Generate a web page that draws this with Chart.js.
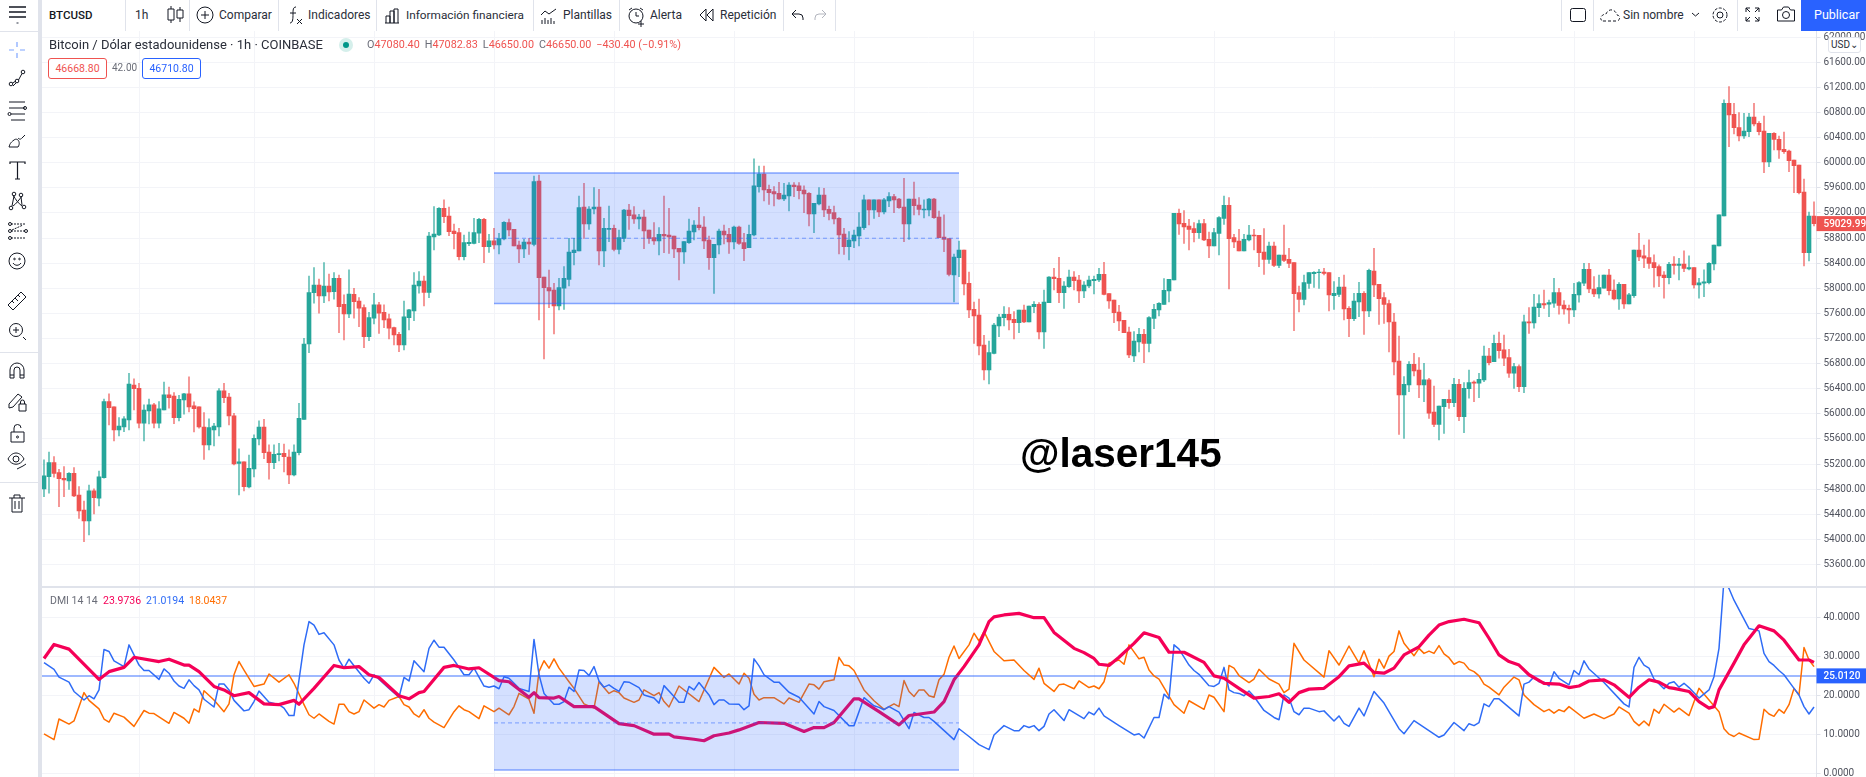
<!DOCTYPE html>
<html lang="es"><head><meta charset="utf-8">
<script src="https://cdn.jsdelivr.net/npm/chart.js@4"></script>
<style>
html,body{margin:0;padding:0;background:#fff;width:1866px;height:777px;overflow:hidden;font-family:Roboto,sans-serif;color:#2a2e39}
.t{position:absolute;white-space:nowrap;line-height:16px;font-size:12px}
.sep{position:absolute;background:#e0e3eb}
svg{position:absolute;overflow:visible;fill:none;stroke:#131722;stroke-width:1}
canvas{position:absolute}
.r{color:#ef5350}.g{color:#6a6d78}
.m{margin-left:5px}
</style></head><body>
<div id="chrome"></div>
<canvas id="priceCanvas" style="left:41px;top:31px;width:1825px;height:555px"></canvas>
<canvas id="dmiCanvas" style="left:41px;top:587px;width:1825px;height:190px"></canvas>
<div id="over"></div>
<script>
const opens=[54804,55000,55223,55064,54974,54931,55053,54708,54469,54294,
54772,54655,54984,56195,56110,55743,55791,55903,56460,56407,
55850,56046,56142,55850,56062,56301,56285,55940,56221,56317,
56126,56110,55791,55505,55743,55791,56365,56269,55967,55212,
55234,54835,55122,55600,55791,55393,55223,55351,55372,55313,
55027,55382,55913,57113,57931,58053,57878,58037,57947,58159,
57745,57591,57905,57798,57692,57230,57522,57735,57618,57512,
57374,57267,57097,57533,57639,58037,58116,57936,58817,58849,
59274,59152,58913,58886,58504,58711,58716,58876,59099,58663,
58754,58690,58785,59045,58939,58690,58626,58737,58700,59709,
58180,58010,57973,57718,58000,58143,58568,58594,59295,59024,
59263,59295,58594,58939,58955,58621,58796,59247,59168,59104,
59136,58929,58806,58753,58860,58849,58833,58637,58578,58727,
58897,59008,58976,58769,58488,58690,58913,58860,58737,58976,
58727,58647,58849,59619,59821,59576,59539,59513,59422,59470,
59645,59630,59566,59513,59184,59343,59486,59258,59205,59114,
58865,58663,58753,58833,58966,59407,59247,59407,59215,59391,
59460,59422,59295,59024,59422,59327,59247,59247,59422,59136,
58817,58791,58212,58488,58610,58079,57665,57575,57097,56698,
56964,57399,57532,57585,57505,57452,57654,57463,57707,57744,
57304,57771,58180,58159,57930,58026,58180,58132,57957,58036,
58121,58132,58222,57914,57813,57622,57490,57304,56921,57144,
57267,57123,57521,57654,57744,57957,58132,59194,59035,58992,
58950,58886,59029,58780,58674,58875,59114,59321,58806,58753,
58594,58769,58849,58844,58578,58461,58674,58366,58530,58461,
58408,57930,57824,58079,58233,58249,58259,58249,57882,57904,
58020,57681,57516,57782,57920,57638,58275,58063,57851,57755,
57463,56842,56300,56460,56789,56699,56460,56540,56030,55833,
56115,56232,56178,56471,55955,56402,56508,56487,56540,56922,
56832,57124,57018,56895,56646,56752,56433,57464,57448,57692,
57756,57745,57761,57931,57734,57681,57655,57894,58080,58303,
57989,57910,58000,58212,57973,57830,58064,57750,57883,58610,
58515,58488,58409,58345,58212,58170,58387,58366,58387,58308,
58329,58053,58080,58090,58387,58674,59151,60946,60771,60558,
60426,60495,60728,60627,60505,60011,60468,60372,60213,60187,
60043,59964,59533,58567,59151];
const highs=[55266,55393,55319,55117,55159,55064,55143,54841,54612,54867,
54804,55090,56237,56317,56110,55940,55956,56646,56556,56487,
56142,56237,56168,56195,56508,56428,56338,56296,56328,56588,
56190,56110,56020,55919,55850,56402,56487,56328,56009,55441,
55234,55345,55664,55887,55913,55505,55505,55531,55520,55425,
55505,56168,57204,58196,58329,58148,58408,58228,58249,58212,
57894,58292,58000,57852,57735,57618,57921,57777,57735,57591,
57384,57299,57798,57666,58249,58265,58196,58892,59300,59285,
59407,59295,59024,58955,58849,58897,59115,59115,59115,58860,
58955,58875,59061,59104,58939,58753,58780,58796,59789,59805,
58180,58291,58079,58159,58345,58796,58796,59470,59672,59300,
59603,59576,59114,59311,59008,58929,59258,59337,59300,59178,
59247,58929,59045,58966,59470,59274,58833,58637,58743,59104,
59077,59290,59141,58833,58700,58944,59008,58955,58992,58992,
58875,59008,60060,59948,59948,59645,59619,59688,59672,59683,
59683,59683,59630,59523,59353,59603,59592,59311,59311,59125,
58955,58902,58929,59205,59486,59407,59407,59407,59433,59523,
59497,59433,59752,59422,59693,59444,59407,59433,59433,59231,
59168,58791,58546,58753,58610,58260,57782,57829,57251,57160,
57442,57585,57707,57691,57627,57654,57734,57718,57787,57771,
57973,58185,58318,58493,58105,58291,58265,58206,58105,58196,
58196,58318,58413,57914,57813,57728,57490,57383,57309,57362,
57346,57548,57744,57771,58153,58143,59194,59263,59236,59098,
59045,59088,59098,58897,58955,59141,59470,59444,58859,58939,
58859,59003,58939,58844,58950,58737,58737,58530,59008,58636,
58408,58036,58212,58249,58265,58302,58318,58249,58105,58174,
58212,57707,57920,58095,57946,58307,58636,58063,57930,57813,
57601,57240,56592,56832,56964,56895,56805,56566,56444,56125,
56232,56380,56566,56550,56497,56699,56524,56646,57081,57044,
57256,57304,57256,57028,56805,56779,57575,57692,57904,57894,
57973,57814,58159,58000,57803,57734,58080,58106,58398,58398,
58186,58212,58212,58303,58133,58090,58064,57920,58610,58876,
58690,58770,58531,58372,58265,58414,58504,58478,58595,58515,
58329,58159,58292,58409,58690,59168,61000,61211,60946,60797,
60787,60787,60946,60654,60744,60468,60479,60426,60489,60203,
60043,59964,59741,59215,59379];
const lows=[54681,54735,54990,54522,54681,54798,54681,54336,53965,54071,
54405,54533,54974,55823,55568,55648,55717,55743,56062,55775,
55568,55839,55775,55775,56062,56089,55844,55887,55993,56030,
55712,55770,55276,55425,55489,55648,56179,55823,55186,54708,
54772,54820,54995,55505,55287,54958,55128,55250,55074,54889,
55011,55345,55913,56975,57761,57602,57772,57798,57825,57294,
57177,57533,57522,57390,57055,57167,57432,57283,57374,57193,
57097,56991,57018,57336,57485,57921,57719,57851,58610,58839,
59046,58839,58626,58451,58451,58679,58706,58727,58408,58573,
58626,58546,58769,58833,58674,58408,58488,58541,58674,57495,
56874,57691,57272,57654,57665,58037,58371,58594,58796,58939,
59184,58371,58345,58743,58594,58546,58743,58939,59035,58944,
58631,58716,58700,58530,58568,58557,58488,58132,58398,58716,
58769,58929,58631,58302,57920,58546,58706,58557,58626,58700,
58440,58647,58833,59529,59391,59337,59311,59417,59396,59231,
59460,59422,59205,58992,58886,59327,59141,59088,59024,58546,
58541,58451,58647,58674,58939,59008,59114,59141,59184,59300,
59205,59274,58743,58780,59168,59168,59120,59152,59114,58806,
58583,58196,57782,58185,57893,57532,57123,56937,56539,56475,
56953,57229,57399,57336,57192,57293,57452,57463,57612,57192,
57043,57771,57973,57771,57681,58015,57973,57771,57851,58010,
57909,58105,57893,57681,57452,57325,57293,56895,56831,56985,
56815,56985,57357,57559,57744,57782,58132,58859,58716,58610,
58737,58796,58759,58488,58674,58530,59019,57989,58647,58594,
58594,58753,58610,58344,58222,58397,58344,58328,58424,58328,
57325,57622,57734,57999,58015,57999,58212,57638,57665,57867,
57495,57229,57484,57548,57266,57548,57867,57426,57442,56985,
56619,55673,55610,56354,56603,56258,56194,55929,55796,55584,
55690,56088,56115,55892,55701,56248,56194,56258,56513,56779,
56832,56885,56768,56582,56407,56354,56338,57283,57363,57549,
57681,57549,57697,57586,57586,57442,57549,57777,58042,57931,
57867,57841,58000,57894,57814,57665,57681,57750,57856,58441,
58329,58318,58016,58026,57841,58069,58223,58133,58265,58292,
58000,57841,57867,58069,58292,58674,59151,60256,60457,60346,
60388,60415,60585,60441,59841,59937,60203,60070,60149,59857,
59523,59502,58355,58434,58992];
const closes=[55011,55223,55053,54968,54947,55053,54692,54453,54294,54772,
54666,54995,56195,56099,55743,55807,55919,56476,56402,55850,
56062,56142,55850,56078,56301,56259,55940,56232,56317,56110,
56083,55791,55505,55781,55807,56365,56259,55967,55202,55234,
54841,55133,55611,55791,55382,55223,55356,55366,55319,55027,
55393,55929,57113,57931,58053,57878,58037,57942,58159,57708,
57591,57909,57788,57682,57230,57533,57735,57602,57496,57363,
57257,57097,57544,57655,58053,58116,57936,58833,58865,59274,
59141,58902,58870,58504,58727,58732,58886,59099,58663,58754,
58690,58791,59051,58929,58674,58626,58737,58706,59699,58169,
58010,57957,57718,58010,58159,58578,58610,59284,59024,59263,
59295,58594,58955,58955,58621,58806,59247,59157,59104,59136,
58913,58796,58753,58860,58833,58817,58626,58578,58743,58913,
59008,58966,58753,58488,58700,58913,58849,58737,58976,58716,
58631,58860,59630,59821,59566,59523,59502,59422,59486,59645,
59619,59555,59502,59184,59353,59486,59247,59194,59104,58849,
58663,58769,58849,58976,59407,59247,59407,59215,59407,59460,
59407,59284,59024,59422,59316,59258,59263,59422,59125,58806,
58780,58222,58498,58610,58068,57654,57559,57081,56698,56974,
57415,57543,57585,57495,57452,57654,57463,57718,57744,57304,
57782,58180,58153,57930,58036,58180,58121,57957,58052,58132,
58143,58222,57904,57797,57612,57479,57293,56937,57160,57267,
57123,57532,57665,57760,57967,58143,59194,59024,58976,58939,
58886,59029,58769,58674,58886,59125,59321,58790,58737,58594,
58780,58849,58833,58567,58461,58674,58366,58530,58445,58397,
57914,57824,58090,58249,58254,58259,58238,57893,57920,58020,
57670,57516,57797,57920,57638,58286,58052,57835,57744,57463,
56826,56300,56470,56789,56683,56460,56540,56009,55833,56125,
56232,56178,56471,55955,56407,56497,56487,56550,56922,56816,
57124,57007,56885,56646,56752,56433,57464,57448,57702,57756,
57734,57772,57931,57729,57671,57655,57904,58090,58303,57989,
57910,58010,58212,57963,57830,58064,57750,57894,58610,58499,
58478,58398,58329,58196,58170,58382,58366,58387,58318,58329,
58053,58085,58101,58398,58690,59168,60946,60760,60558,60426,
60505,60728,60617,60495,60011,60468,60372,60203,60176,60033,
59953,59523,58567,59151,59029.99];
const barLabels=opens.map((_,i)=>i);
const dayBars=[19,42,66,90,114,138,162,186,210,234,258,282,306,330];
const priceTicks=[53600,54000,54400,54800,55200,55600,56000,56400,56800,57200,57600,58000,58400,58800,59200,59600,60000,60400,60800,61200,61600,62000];
const dmiTicks=[0,10,20,30,40];
const rangeBars=[90,183];
const priceBox=[57758,58797,59836];
const dmiBox=[0.8,12.9,25.0];
const dmiLevel=25.012;

const adxBars=[0,2,5,11,13,16,18,23,25,28,29,31,34,36,38,41,44,47,50,51,54,58,60,63,65,67,71,73,75,76,80,82,85,87,91,93,97,98,99,102,103,106,110,115,118,122,125,126,130,132,134,137,139,143,148,152,154,156,158,162,163,167,171,173,178,180,182,184,187,189,190,192,195,198,200,202,206,208,210,211,213,215,218,220,223,225,228,232,234,236,239,242,245,247,249,251,253,256,259,261,264,266,268,270,272,275,277,279,281,284,287,289,291,293,295,297,300,303,305,307,309,312,314,317,319,321,323,325,326,329,331,333,334,335,338,340,343,346,348,351,353,354];
const adxVals=[29.5,33.1,31.9,24.1,26.1,27.2,29.8,28.7,29.3,27.8,27.8,26.1,22.3,21.4,19.9,20.7,17.8,17.6,18.7,17.7,21.8,27.7,27.1,27.4,25.3,24.6,19.9,19.1,20.7,21,27.2,27.7,26.8,27.1,23.8,23.5,19.5,20.7,19.4,19.3,19.7,17.1,17.1,12.7,12.2,10,10,9.3,8.7,8.3,9.6,10.3,11.1,13,12.8,10.7,11.7,11.7,13,19.1,19.1,15.8,12.4,14.8,15.7,18.4,24,27.4,33,39,40.2,40.7,41.1,40,40,36.2,32.1,31,29.5,28,27.7,29.8,33.4,36.1,34.9,31.1,31.1,28.5,25,24.4,21.8,19.3,19.7,20.4,18.2,20.7,21.6,21.8,24.8,27.6,28.3,25.9,25.7,27,30.4,32.5,35.5,38.1,39,39.6,38.7,34.7,30.4,28.7,27.8,25.3,23.1,22.9,22,22.4,23.7,24,22.7,19.5,22.1,24,23.4,22,21.8,21,18.4,16.7,17.1,21.4,28.3,33,37.9,36.6,34.2,29.1,29.1,28.5];

const plusBars=[0,2,3,5,6,8,9,10,11,12,13,14,16,17,18,19,20,21,23,24,25,26,27,28,29,30,31,32,34,35,36,37,38,40,41,42,43,45,47,48,49,50,51,52,53,54,55,56,58,59,60,61,62,64,65,66,69,71,72,73,74,76,77,78,79,80,82,84,85,86,88,89,90,91,92,93,95,97,98,99,100,102,103,104,105,106,107,108,109,110,111,112,113,114,
115,116,117,119,120,122,123,124,126,127,128,129,130,131,133,134,135,136,137,139,140,141,142,143,144,146,147,149,151,154,155,156,158,161,162,164,166,167,168,169,171,173,174,176,177,178,182,183,185,187,189,190,192,194,195,196,197,198,199,200,201,202,204,205,208,209,210,211,212,215,218,219,220,222,223,224,225,226,227,229,230,231,233,234,235,236,237,238,
239,240,241,242,244,246,247,248,249,250,251,252,253,255,256,258,259,260,261,263,264,266,268,271,272,274,279,280,282,284,285,286,287,288,289,290,291,295,296,297,298,299,300,301,302,303,305,306,307,308,309,312,316,317,318,319,320,321,322,324,325,326,327,328,329,331,333,334,335,336,337,338,341,343,344,345,346,347,348,350,351,352,353,354];
const plusVals=[28.4,26.7,24.7,23.4,21,18.8,19.9,19.1,21.4,31.8,31.3,28.9,27.4,33,30.4,27.8,26.4,26.4,24.1,26.8,25.7,23.7,22.4,21.8,24,22.5,21.4,19,17,22.9,22.9,21.4,18.7,16,16.3,18.4,21.1,18.2,17.6,16.7,14.8,14.8,24,33,39,38.1,35.7,36.1,33,29.1,27,29.3,27.6,24.4,23.1,25.3,21.8,19.5,24.6,23.7,28.9,26.1,32.1,34.2,32.4,32.4,29.1,25.3,25.3,27,22.4,22.1,22.4,21.7,24.8,24.4,21.8,21,34.4,25.3,20.5,17.7,17.7,18.4,22.1,21,26.5,26.4,25.1,27.4,23.7,22.1,22.7,21.8,
21,23.5,23.4,22,20.1,19.3,18,22.5,19.7,18.2,18.2,22.3,21.4,23.3,20.1,17.6,18.8,18.8,17.8,17.7,16.3,17.3,29.4,27.6,25.3,23.4,23.4,20.8,19.5,15.2,18.4,17.1,16.1,12.2,12.2,19.4,17.3,16.9,16.3,17.1,15.7,11.4,15.6,14.3,14.3,13.3,8.6,11.4,9.4,7.3,6,9.8,12.2,10.9,10.9,12.2,11.7,12.2,10.9,12,15.2,16.3,13.5,16.3,14,15.7,15,16.7,14.7,12.2,9.8,10.1,9,14.3,14.3,20.3,19.1,33,31.9,27.8,26.4,25.4,22.5,22.3,23.1,27.2,21.4,20.7,
20.5,19.9,21.1,19.7,16.1,14.3,13.7,20.1,19.3,15.8,15,16.7,16.7,15.8,16,13.4,14.7,12.8,12,16.7,14.7,21,18,11.4,10.1,13.5,9.2,9.8,13,10.9,12.7,12.2,13,17.8,17.1,19.1,19.1,14.7,22.9,23.4,24.7,23.5,23.4,22.4,26.1,24.4,22.7,26.4,25.3,28.9,26.8,23.3,17.8,17,27.2,29.8,27.8,27,24.2,21.7,23.1,23.5,22.1,23.1,22,19.3,21.4,24.8,32.1,49.8,47.5,44.5,37.2,36.6,30.8,28.7,27.7,26.4,25.3,21.8,20.1,17.1,15.2,17];

const minusBars=[0,2,3,5,6,8,9,11,12,13,14,16,18,20,21,22,25,26,28,29,30,31,32,34,36,37,38,39,40,42,44,45,47,49,50,52,53,54,55,57,58,59,60,61,62,63,64,66,67,68,69,71,72,73,74,75,76,77,78,80,82,83,84,85,87,88,90,91,93,94,95,97,98,99,100,101,102,103,105,106,108,110,111,113,114,
115,116,118,119,120,122,123,124,125,127,131,134,136,137,139,140,141,142,143,144,146,148,149,151,153,154,155,156,158,159,160,161,162,164,166,168,170,171,172,173,174,175,176,177,178,179,180,181,182,183,185,186,187,188,190,192,194,196,198,199,200,202,203,204,206,207,209,210,211,212,213,215,216,217,219,220,221,222,223,226,228,229,232,233,234,236,237,238,
239,241,242,243,245,247,248,249,250,252,256,257,259,261,263,264,266,267,268,269,270,271,272,274,275,276,277,278,279,280,281,282,283,284,285,286,287,288,289,291,292,294,295,296,298,300,301,302,303,304,305,308,310,312,314,315,317,318,319,320,321,322,323,324,326,327,329,331,335,336,337,338,339,342,343,344,345,346,347,348,349,350,351,352,353,354];
const minusVals=[10.1,8.6,13.9,12.6,13.4,20.7,18.7,16.5,13.9,13.1,15.4,14.4,12,16.1,15.4,15.3,12.8,15.6,14.1,12.8,16.5,15.7,21.2,18.8,15.8,17.8,25.3,28.7,26.5,22.3,22.9,25.5,23.4,25.3,23.1,17.6,15,14.1,15.2,13.3,12.6,17.7,17.7,15.8,15.2,15.8,18.8,16.7,17.6,17,18.7,19.7,17.6,17,15.2,14.4,16.3,14.1,13.1,11.7,15.8,17.3,16.3,15.8,14,17.3,15.8,16.7,15,17.1,20.5,19,15.4,26.1,28.9,27,29.4,27,23.5,21.8,17.8,16.7,23.5,20.5,21.2,
20.7,19.3,18.2,18.8,21.4,19.9,20.7,18.4,17,22.4,18.4,27.2,24.6,25.5,22.9,25.7,24.4,20.3,18.8,19.4,19.4,17.8,19.3,18.2,22.9,22.7,21.6,23.5,24,29.8,27.8,27.6,26.4,21.4,18.6,16.4,17.8,17.1,23.8,21,19.7,21.4,21.4,19.9,19.5,24,25.4,29.8,32.7,29.5,33,36,34,36.4,31.3,28.9,29.1,26.4,24.1,27,23.1,21,22.7,22.9,21.7,23.7,22,22.4,21.7,23.5,28.3,29.1,28,33,29.4,29.8,26.5,25,24.2,17.6,15.4,18.6,16.4,20.1,19.5,15.8,27.7,27,
25.1,23.3,24.2,26.7,24.2,22.9,20.7,21.6,33.4,29.1,24.7,31.5,27.8,32.7,28.3,31.5,24.8,29.3,27,30.1,31.3,36.6,33.4,30.2,32.1,30.8,31.4,30.8,32.8,30.7,29.7,28,28.7,28.3,26.7,26.1,25,22.9,22.1,20.1,22.1,24.7,24,20.1,17.6,15.8,16.4,15.4,16.3,15.8,17.1,14.1,15.2,14,15.2,17,15.4,13.3,12.2,13.4,12.2,16.4,15.4,17.7,15.7,16.7,14.8,21.8,15.8,11.4,10,9.4,10.3,8.6,8.7,16.4,15.2,14.6,16.4,15.4,17.6,21.8,20.1,32.3,29.1,27.4];

const up='#26a69a',down='#ef5350',upWick='rgba(38,166,154,0.72)',downWick='rgba(239,83,80,0.72)',axisFont='Roboto,sans-serif',tickGrey='#50535e',gridC='#f3f4f8',lineC='#e0e3eb';
const boxFill='rgba(41,98,255,0.2)',boxLine='rgba(41,98,255,0.55)';

function fixY(w){return s=>{s.paddingTop=0;s.paddingBottom=0;s.width=w;};}
function drawBox(chart,vals){
  const {ctx,scales:{x,y}}=chart;
  const x0=x.getPixelForValue(rangeBars[0]),x1=x.getPixelForValue(rangeBars[1]);
  const yb=y.getPixelForValue(vals[0]),ym=y.getPixelForValue(vals[1]),yt=y.getPixelForValue(vals[2]);
  ctx.save();
  ctx.fillStyle=boxFill;ctx.fillRect(x0,yt,x1-x0,yb-yt);
  ctx.strokeStyle=boxLine;ctx.lineWidth=1.5;
  ctx.beginPath();ctx.moveTo(x0,yt);ctx.lineTo(x1,yt);ctx.moveTo(x0,yb);ctx.lineTo(x1,yb);ctx.stroke();
  ctx.lineWidth=1;ctx.setLineDash([4,3]);
  ctx.beginPath();ctx.moveTo(x0,ym);ctx.lineTo(x1,ym);ctx.stroke();
  ctx.restore();
}
function drawTag(chart,val,txt,bg,h){
  const {ctx,scales:{y}}=chart,py=y.getPixelForValue(val);
  ctx.save();ctx.fillStyle=bg;ctx.fillRect(y.left,py-h/2,y.right-y.left,h);
  ctx.fillStyle='#fff';ctx.font='500 10px '+axisFont;ctx.textBaseline='middle';ctx.textAlign='left';
  ctx.fillText(txt,y.left+7,py+.5);ctx.restore();
}
Chart.defaults.animation=false;
Chart.defaults.responsive=false;
Chart.defaults.devicePixelRatio=1;
function xGrid(s){s.ticks=dayBars.map(v=>({value:v}));}
function sizeC(id,w,h){const c=document.getElementById(id);c.width=w;c.height=h;return c;}

new Chart(sizeC('priceCanvas',1825,555),{type:'bar',
 data:{labels:barLabels,datasets:[
  {data:opens.map((o,i)=>[Math.min(o,closes[i]),Math.max(o,closes[i])]),backgroundColor:opens.map((o,i)=>closes[i]>=o?up:down),barThickness:4,grouped:false,order:0,borderWidth:0},
  {data:lows.map((l,i)=>[l,highs[i]]),backgroundColor:opens.map((o,i)=>closes[i]>=o?upWick:downWick),barThickness:1,grouped:false,order:1,borderWidth:0}
 ]},
 options:{maintainAspectRatio:false,layout:{padding:{left:0.5,top:0,right:0,bottom:0}},
  plugins:{legend:{display:false},tooltip:{enabled:false}},
  scales:{
   x:{type:'category',offset:true,afterBuildTicks:xGrid,ticks:{display:false},border:{display:false},grid:{color:gridC,drawTicks:false,offset:false}},
   y:{position:'right',min:53258,max:62098,afterBuildTicks:s=>{s.ticks=priceTicks.map(v=>({value:v}));},afterFit:fixY(49.5),
      ticks:{color:tickGrey,font:{family:axisFont,size:10},padding:3,callback:v=>v.toFixed(2)},
      grid:{color:gridC,tickColor:lineC,tickLength:4},border:{color:lineC}}
  }},
 plugins:[{id:'box',afterDatasetsDraw:c=>drawBox(c,priceBox),afterDraw:c=>drawTag(c,closes[closes.length-1],closes[closes.length-1].toFixed(2),down,15)}]
});

const pairs=(b,v)=>b.map((x,i)=>({x,y:v[i]}));
new Chart(sizeC('dmiCanvas',1825,190),{type:'line',
 data:{datasets:[
  {data:pairs(adxBars,adxVals),borderColor:'#f50057',borderWidth:3.2,order:0},
  {data:pairs(plusBars,plusVals),borderColor:'#2f6cf6',borderWidth:1.5,order:1},
  {data:pairs(minusBars,minusVals),borderColor:'#ff6d00',borderWidth:1.5,order:2},
  {data:[{x:-0.5,y:dmiLevel},{x:354.5,y:dmiLevel}],borderColor:'rgba(41,98,255,0.6)',borderWidth:1.5,order:3}
 ]},
 options:{maintainAspectRatio:false,layout:{padding:{left:0.5,top:0,right:0,bottom:0}},
  elements:{point:{radius:0},line:{tension:0,borderJoinStyle:'round'}},
  plugins:{legend:{display:false},tooltip:{enabled:false}},
  scales:{
   x:{type:'linear',min:-0.5,max:354.5,afterBuildTicks:xGrid,ticks:{display:false},border:{display:false},grid:{color:gridC,drawTicks:false}},
   y:{position:'right',min:-1.03,max:47.9,afterBuildTicks:s=>{s.ticks=dmiTicks.map(v=>({value:v}));},afterFit:fixY(49.5),
      ticks:{color:tickGrey,font:{family:axisFont,size:10},padding:3,autoSkip:false,callback:v=>v.toFixed(4)},
      grid:{color:gridC,tickColor:lineC,tickLength:4},border:{color:lineC}}
  }},
 plugins:[{id:'box',afterDatasetsDraw:c=>drawBox(c,dmiBox),afterDraw:c=>drawTag(c,dmiLevel,dmiLevel.toFixed(4),'#2962ff',15)}]
});

/* ---- interface chrome ---- */
const T=(x,y,s,cls,st)=>`<div class="t ${cls||''}" style="left:${x}px;top:${y-8}px;${st||''}">${s}</div>`;
const V=(x,h,y)=>`<div class="sep" style="left:${x}px;top:${y||0}px;width:1px;height:${h}px"></div>`;
const H=(x,y,w)=>`<div class="sep" style="left:${x}px;top:${y}px;width:${w}px;height:1px"></div>`;
const I=(x,y,b)=>`<svg style="left:${x}px;top:${y}px" width="1" height="1">${b}</svg>`;
const ui=[];
ui.push(V(38,777).replace('width:1px','width:4px'));
ui.push(H(0,31,38),H(0,352,38),H(0,482,38));
ui.push(`<div class="sep" style="left:38px;top:586px;width:1828px;height:1.5px"></div>`);
[125,189,278,376,533,619,783,835,1561,1593,1737].forEach(x=>ui.push(V(x,31)));
ui.push(`<div style="position:absolute;left:1801px;top:0;width:65px;height:31px;background:#2962ff"></div>`);
ui.push(T(49,15,'<b style="font-weight:500;font-size:11.5px;color:#131722">BTCUSD</b>'),T(135,15,'1h'),T(219,15,'Comparar'),T(308,15,'Indicadores'),T(406,15,'Información financiera','','font-size:11.800px'),T(563,15,'Plantillas'),T(650,15,'Alerta'),T(720,15,'Repetición'),T(1623,15,'Sin nombre'),T(1814,15,'Publicar','', 'color:#fff;font-size:12.500px'));
ui.push(T(49,45,'Bitcoin / Dólar estadounidense · 1h · COINBASE','','font-size:13px'));
ui.push(`<div style="position:absolute;left:339px;top:38px;width:14px;height:14px;border-radius:7px;background:#d5efeb"></div><div style="position:absolute;left:343px;top:42px;width:6px;height:6px;border-radius:3px;background:#009688"></div>`);
ui.push(T(367,45,'<span class="g">O</span>47080.40<span class="g m">H</span>47082.83<span class="g m">L</span>46650.00<span class="g m">C</span>46650.00<span class="m">−430.40</span> (−0.91%)','r','font-size:10.800px'));
ui.push(`<div class="t r" style="left:48px;top:58px;width:57px;height:19px;line-height:19px;border:1px solid #ef5350;border-radius:3px;text-align:center;background:#fff;font-size:10.500px">46668.80</div>`);
ui.push(T(112,68,'42.00','g','font-size:10px'));
ui.push(`<div class="t" style="left:142px;top:58px;width:57px;height:19px;line-height:19px;border:1px solid #2962ff;color:#2962ff;border-radius:3px;text-align:center;background:#fff;font-size:10.500px">46710.80</div>`);
ui.push(T(50,601,'DMI 14 14','g','font-size:10.500px'),T(103,601,'23.9736','','font-size:10.500px;color:#f50057'),T(146,601,'21.0194','','font-size:10.500px;color:#2f6cf6'),T(189,601,'18.0437','','font-size:10.500px;color:#ff6d00'));
ui.push(`<div class="t" style="left:1828px;top:37px;width:31px;height:14px;line-height:14px;border:1px solid #e0e3eb;border-radius:3px;background:#fff;font-size:10px;text-align:center">USD⌄</div>`);
ui.push(`<div style="position:absolute;left:1020px;top:429px;font:700 40.500px/48px 'Liberation Sans',Arial,sans-serif;color:#000;white-space:nowrap">@laser145</div>`);
/* toolbar icons */
ui.push(I(168,6,'<path d="M3 0v3M0 3h6v11H0zM3 14v3M12 1v3M9 4h6v8H9zM12 12v4"/>'));
ui.push(I(197,7,'<circle cx="8" cy="8" r="8"/><path d="M8 4v8M4 8h8"/>'));
ui.push(I(289,6,'<path d="M7 1C4 1 4 4 4 8s0 9-3 9M1 7h6M8 13l5 5M13 13l-5 5"/>'));
ui.push(I(385,8,'<path d="M0 15h14M1 15V8h4v7M5 15V3h4v12M9 15V1h4v14"/>'));
ui.push(I(541,8,'<path d="M0 7l4-4 4 3 7-5M1 16v-4M4 16v-6M7 16v-4M10 16v-6M13 16v-3"/>'));
ui.push(I(627,7,'<circle cx="9" cy="9" r="7"/><path d="M9 5v4h3M2 3l3-2M16 3l-3-2M14 14v6M11 17h6"/>'));
ui.push(I(700,9,'<path d="M6 0L0 6l6 6zM13 0L7 6l6 6z"/>'));
ui.push(I(792,10,'<path d="M0 4l4-4M0 4l4 4M0 4h7a4 4 0 0 1 4 4v2"/>'));
ui.push(I(815,10,'<path stroke="#b2b5be" d="M11 4L7 0M11 4L7 8M11 4H4a4 4 0 0 0-4 4v2"/>'));
ui.push(I(1570,8,'<rect x=".5" y=".5" width="15" height="13" rx="2"/>'));
ui.push(I(1600,8,'<path stroke-dasharray="3 2" d="M3 13h14c4-1 3-6 0-6C16 2 9-1 6 6 2 6-2 11 3 13z"/>'));
ui.push(I(1692,13,'<path d="M0 0l3.500 3L7 0"/>'));
ui.push(I(1712,6,'<circle cx="8" cy="9" r="3"/><circle cx="8" cy="9" r="7" stroke-dasharray="3 1.500"/>'));
ui.push(I(1746,8,'<path d="M0 4V0h4M9 0h4v4M0 9v4h4M13 9v4H9M0 0l4 4M13 0L9 4M0 13l4-4M13 13l-4-4"/>'));
ui.push(I(1777,7,'<path d="M0.500 3h4l2-3h5l2 3h4v11H.5z"/><circle cx="9" cy="8" r="3.500"/>'));
/* sidebar icons */
const sx=9;
ui.push(I(sx,7,'<path stroke-width="1.500" d="M0 0h17M0 5h17M0 10h17"/><path stroke="#9598a1" stroke-width="2" d="M7.500 16h2"/>'));
ui.push(I(sx,42,'<path stroke="#7fa5ff" stroke-width="1.200" d="M8 0v5M8 11v5M0 8h5M11 8h5"/>'));
ui.push(I(sx,70,'<circle cx="2" cy="14" r="1.800"/><circle cx="14" cy="2" r="1.800"/><circle cx="8" cy="11" r="1.800"/><path d="M3.500 13L7 11M9.500 10L13 3.500M4 16l3-3"/>'));
ui.push(I(sx-1,102,'<path d="M1 0h16M1 6h16M3 12h14M3 18h14"/><circle cx="17" cy="6" r="1.500"/><circle cx="1.500" cy="12" r="1.500"/>'));
ui.push(I(sx,132,'<path d="M0 15h9c3-4 0-10-4-7S1 12 0 15zM9 6c2 2 3 1 4 0l3-3"/>'));
ui.push(I(sx+1,162,'<path stroke-width="1.200" d="M0 2V0h15v2M7.500 0v17M5 17h5"/>'));
ui.push(I(sx,192,'<circle cx="2" cy="16" r="1.800"/><circle cx="15" cy="15" r="1.800"/><circle cx="5" cy="2" r="1.800"/><circle cx="12" cy="3" r="1.800"/><path d="M3 14L5 4M13 13L12 5M4 3c3 5 5 8 9 11M13 4c-3 4-6 8-9 10"/>'));
ui.push(I(sx-1,222,'<circle cx="2" cy="2" r="1.500"/><circle cx="2" cy="9" r="1.500"/><circle cx="2" cy="16" r="1.500"/><circle cx="18" cy="9" r="1.500"/><path d="M3 2h15M3 9h14M3 16h15M4 8l11-5" stroke-dasharray="2 1"/>'));
ui.push(I(sx,253,'<circle cx="8" cy="8" r="8" stroke="#131722"/><circle cx="5.500" cy="6" r=".8"/><circle cx="10.500" cy="6" r=".8"/><path d="M4 10c2 3 6 3 8 0"/>'));
ui.push(I(sx-1,292,'<path d="M0 13L13 0l5 5L5 18zM4 9l2 2M7 6l3 3M10 3l2 2"/>'));
ui.push(I(sx,323,'<circle cx="7" cy="7" r="6.500"/><path d="M14 14l3 3M4 7h6M7 4v6"/>'));
ui.push(I(sx,362,'<path d="M1 16V8a7 7 0 0 1 14 0v8h-4V8a3 3 0 0 0-6 0v8zM1 13h4M11 13h4"/>'));
ui.push(I(sx-1,393,'<path d="M1 11L10 1l4 3-9 10-4 1zM11 11h7v7h-7zM12.500 11V9a2 2 0 0 1 4 0v2"/>'));
ui.push(I(sx+1,424,'<path d="M1 8h13v10H1zM4 8V4a3.500 3.500 0 0 1 7 0"/><circle cx="7.500" cy="13" r="1"/>'));
ui.push(I(sx-1,452,'<path d="M0 7c4-8 12-8 16 0-4 7-12 7-16 0z"/><circle cx="8" cy="7" r="3"/><path d="M9 17l6-3 3-2"/>'));
ui.push(I(sx,495,'<path d="M0 3h16M3 3v14h10V3M5 3V0h6v3M6 6v8M10 6v8"/>'));
document.getElementById('over').innerHTML=ui.join('');
</script>
</body></html>
